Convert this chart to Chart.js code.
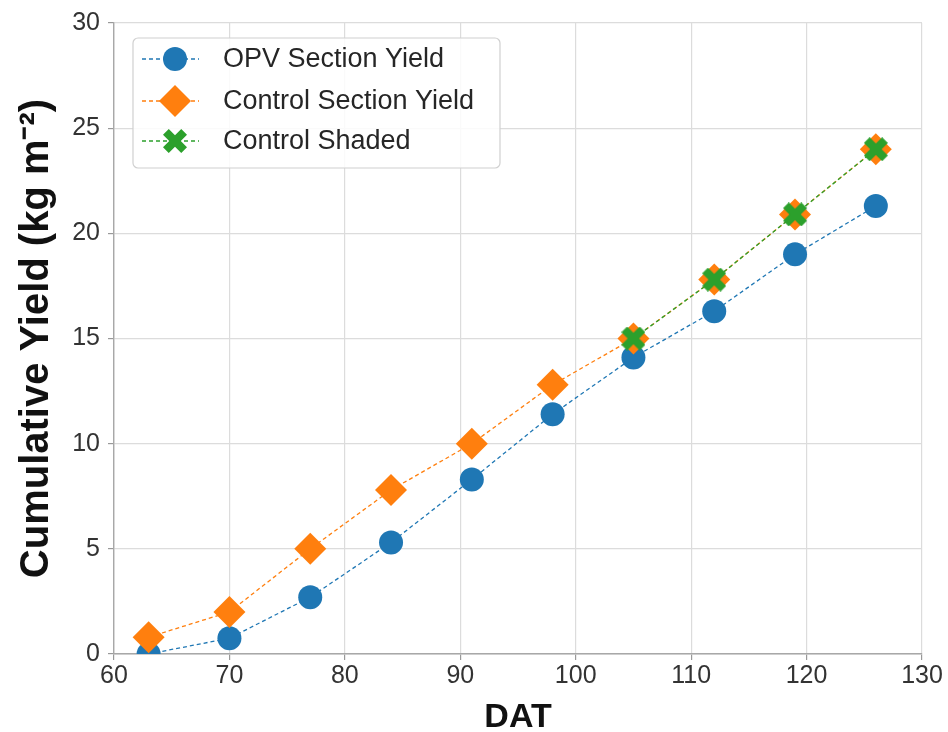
<!DOCTYPE html>
<html>
<head>
<meta charset="utf-8">
<script src="https://cdn.jsdelivr.net/npm/chart.js@4/dist/chart.umd.min.js"></script>
<style>
  html, body { margin: 0; padding: 0; background: #fff; }
  #wrap { width: 948px; height: 732px; }
</style>
</head>
<body>
<div id="wrap"><canvas id="yieldChart"></canvas></div>
<script>
// days after transplant and cumulative yield (kg m^-2)
const dat = [63, 70, 77, 84, 91, 98, 105, 112, 119, 126];
const opvYield = [0.0, 0.75, 2.7, 5.3, 8.3, 11.4, 14.1, 16.3, 19.0, 21.3];
const controlYield = [0.8, 2.0, 5.0, 7.8, 10.0, 12.8, 15.0, 17.8, 20.9, 24.0];
const shadedDat = [105, 112, 119, 126];
const shadedYield = [15.0, 17.8, 20.9, 24.0];

const xTicks = [60, 70, 80, 90, 100, 110, 120, 130];
const yTicks = [0, 5, 10, 15, 20, 25, 30];

const seriesNames = ["OPV Section Yield", "Control Section Yield", "Control Shaded"];

const BLUE = "#1f77b4";
const ORANGE = "#ff7f0e";
const GREEN = "#2ca02c";

// filled "X" marker, like matplotlib's 'X'
function makeXMarker(size, color) {
    const c = document.createElement("canvas");
    c.width = size;
    c.height = size;
    const g = c.getContext("2d");
    const w = size * 0.24;
    const h = size / 2;
    g.translate(h, h);
    g.fillStyle = color;
    g.beginPath();
    g.moveTo(-h + w, -h);
    g.lineTo(0, -w);
    g.lineTo(h - w, -h);
    g.lineTo(h, -h + w);
    g.lineTo(w, 0);
    g.lineTo(h, h - w);
    g.lineTo(h - w, h);
    g.lineTo(0, w);
    g.lineTo(-h + w, h);
    g.lineTo(-h, h - w);
    g.lineTo(-w, 0);
    g.lineTo(-h, -h + w);
    g.closePath();
    g.fill();
    return c;
}

const xMarker = makeXMarker(24, GREEN);

const toPoints = (xs, ys) => xs.map((x, i) => ({x: x, y: ys[i]}));

// legend drawn inside the plot area, upper left
const innerLegend = {
    id: "innerLegend",
    afterDraw(chart) {
        const ctx = chart.ctx;
        const area = chart.chartArea;
        const bx = area.left + 19, by = area.top + 15;
        const bw = 367, bh = 130;
        ctx.save();
        ctx.beginPath();
        ctx.roundRect(bx, by, bw, bh, 5);
        ctx.fillStyle = "rgba(255,255,255,0.85)";
        ctx.fill();
        ctx.strokeStyle = "#d0d0d0";
        ctx.lineWidth = 1.2;
        ctx.stroke();

        const rows = [by + 21, by + 63, by + 103];
        const styles = [
            {color: BLUE, marker: "circle"},
            {color: ORANGE, marker: "diamond"},
            {color: GREEN, marker: "x"}
        ];
        ctx.font = "27px 'Liberation Sans', Arial, sans-serif";
        ctx.textBaseline = "middle";
        rows.forEach((ry, i) => {
            const s = styles[i];
            const mx = bx + 42;
            ctx.setLineDash([4, 3]);
            ctx.strokeStyle = s.color;
            ctx.lineWidth = 1.3;
            ctx.beginPath();
            ctx.moveTo(bx + 9, ry);
            ctx.lineTo(bx + 66, ry);
            ctx.stroke();
            ctx.setLineDash([]);
            ctx.fillStyle = s.color;
            if (s.marker === "circle") {
                ctx.beginPath();
                ctx.arc(mx, ry, 12, 0, Math.PI * 2);
                ctx.fill();
            } else if (s.marker === "diamond") {
                ctx.beginPath();
                ctx.moveTo(mx, ry - 16);
                ctx.lineTo(mx + 16, ry);
                ctx.lineTo(mx, ry + 16);
                ctx.lineTo(mx - 16, ry);
                ctx.closePath();
                ctx.fill();
            } else {
                ctx.drawImage(xMarker, mx - xMarker.width / 2, ry - xMarker.height / 2);
            }
            ctx.fillStyle = "#262626";
            ctx.fillText(seriesNames[i], bx + 90, ry + 1);
        });
        ctx.restore();
    }
};

new Chart(document.getElementById("yieldChart"), {
    type: "line",
    data: {
        datasets: [{
                label: seriesNames[0],
                data: toPoints(dat, opvYield),
                borderColor: BLUE,
                backgroundColor: BLUE,
                borderWidth: 1.3,
                borderDash: [4, 3],
                pointStyle: "circle",
                pointRadius: 12,
                pointBorderWidth: 0,
                pointHoverRadius: 12,
                order: 2
            }, {
                label: seriesNames[1],
                data: toPoints(dat, controlYield),
                borderColor: ORANGE,
                backgroundColor: ORANGE,
                borderWidth: 1.3,
                borderDash: [4, 3],
                pointStyle: "rectRot",
                pointRadius: 16,
                pointBorderWidth: 0,
                pointHoverRadius: 16,
                order: 1
            }, {
                label: seriesNames[2],
                data: toPoints(shadedDat, shadedYield),
                borderColor: GREEN,
                backgroundColor: GREEN,
                borderWidth: 1.3,
                borderDash: [4, 3],
                pointStyle: xMarker,
                pointRadius: 12,
                order: 0
            }]
    },
    options: {
        responsive: true,
        maintainAspectRatio: false,
        animation: false,
        layout: {
            padding: {top: 22, right: 26, left: 0, bottom: 0}
        },
        plugins: {
            legend: {display: false},
            tooltip: {enabled: false}
        },
        scales: {
            x: {
                type: "linear",
                min: 60,
                max: 130,
                afterBuildTicks: axis => {
                    axis.ticks = xTicks.map(v => ({value: v}));
                },
                afterFit: axis => {
                    axis.height = 78;
                },
                grid: {
                    color: "#dcdcdc",
                    lineWidth: 1.2,
                    tickLength: 6,
                    tickColor: "#999"
                },
                border: {color: "#a8a8a8", width: 1.4},
                ticks: {
                    color: "#333",
                    padding: 1,
                    font: {family: "'Liberation Sans', Arial, sans-serif", size: 25}
                },
                title: {
                    display: true,
                    text: "DAT",
                    color: "#111",
                    padding: {top: 0, bottom: -3},
                    font: {family: "'Liberation Sans', Arial, sans-serif", size: 34, weight: "bold", lineHeight: 1.0}
                }
            },
            y: {
                min: 0,
                max: 30,
                afterBuildTicks: axis => {
                    axis.ticks = yTicks.map(v => ({value: v}));
                },
                afterFit: axis => {
                    axis.width = 114;
                },
                grid: {
                    color: "#dcdcdc",
                    lineWidth: 1.2,
                    tickLength: 6,
                    tickColor: "#999"
                },
                border: {color: "#a8a8a8", width: 1.4},
                ticks: {
                    color: "#333",
                    padding: 8,
                    font: {family: "'Liberation Sans', Arial, sans-serif", size: 25}
                },
                title: {
                    display: true,
                    text: "Cumulative Yield (kg m⁻²)",
                    color: "#111",
                    padding: {top: 13, bottom: 0},
                    font: {family: "'Liberation Sans', Arial, sans-serif", size: 40, weight: "bold", lineHeight: 1.2}
                }
            }
        }
    },
    plugins: [innerLegend]
});
</script>
</body>
</html>
